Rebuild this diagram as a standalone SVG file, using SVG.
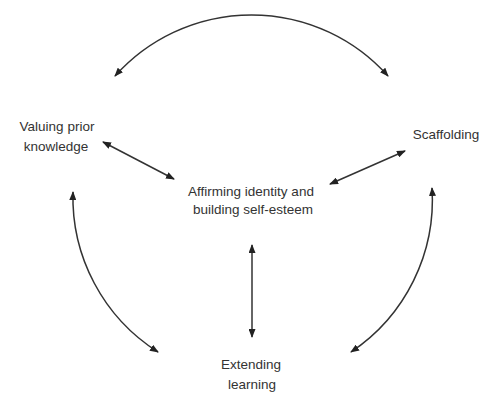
<svg xmlns="http://www.w3.org/2000/svg" width="488" height="394" viewBox="0 0 488 394">
<defs>
<marker id="ah" markerWidth="9" markerHeight="7" refX="8" refY="3.5" orient="auto-start-reverse" markerUnits="userSpaceOnUse">
<path d="M0,0 L9,3.5 L0,7 Z" fill="#222"/>
</marker>
<style>
.lbl{font-family:"Liberation Sans",Arial,sans-serif;font-size:13.5px;fill:#333;text-anchor:middle}
.c{fill:none;stroke:#333;stroke-width:1.5;marker-start:url(#ah);marker-end:url(#ah)}
</style>
</defs>
<rect width="488" height="394" fill="#fff"/>
<g id="connectors">
<path class="c" d="M115,76 A183,183 0 0 1 388,76"/>
<path class="c" d="M73,192 A183,183 0 0 0 158,352"/>
<path class="c" d="M432,188 A183,183 0 0 1 351,352"/>
<path class="c" d="M103,142 L174,179"/>
<path class="c" d="M405,151 L330,184"/>
<path class="c" d="M252,245 L252,337"/>
</g>
<g id="valuing">
<text class="lbl" x="57" y="131">Valuing prior</text>
<text class="lbl" x="56" y="151">knowledge</text>
</g>
<g id="affirming">
<text class="lbl" x="251" y="196">Affirming identity and</text>
<text class="lbl" x="253" y="214">building self-esteem</text>
</g>
<g id="scaffolding">
<text class="lbl" x="446" y="139">Scaffolding</text>
</g>
<g id="extending">
<text class="lbl" x="251" y="369">Extending</text>
<text class="lbl" x="252" y="389">learning</text>
</g>
</svg>
